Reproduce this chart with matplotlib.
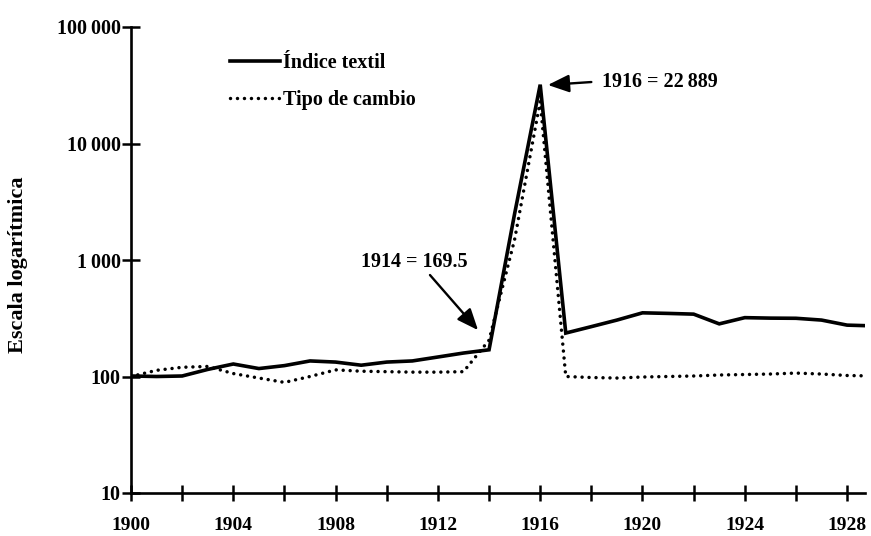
import numpy as np
import matplotlib
matplotlib.use("Agg")
import matplotlib.pyplot as plt
from matplotlib.ticker import NullLocator

plt.rcParams['font.family'] = ['Liberation Serif', 'DejaVu Serif']
plt.rcParams['font.weight'] = 'bold'

# datos
years = list(range(1900, 1930))
indice_textil = [101, 100, 101, 115, 128, 117, 124, 136, 133, 125,
                 133, 136, 147, 159, 169.5, 2500, 32000, 236, 268, 305,
                 352, 348, 343, 283, 320, 317, 316, 305, 276, 272]
tipo_cambio = [100, 113, 120, 122, 106, 97, 89, 100, 114, 111,
               110, 109, 109, 110, 205, 1500, 23000, 100, 98, 97,
               99, 100, 101, 103, 104, 105, 107, 105, 102, 101]

xticks = list(range(1900, 1929, 2))
xticklabels = [str(y) if (y - 1900) % 4 == 0 else '' for y in xticks]
yticks = [10, 100, 1000, 10000, 100000]
yticklabels = ['10', '100', '1\u2009000', '10\u2009000', '100\u2009000']

fs = 14

fig = plt.figure(figsize=(8.71, 5.36), dpi=100)
ax = fig.add_axes([131 / 871, 1 - 493 / 536, (865 - 131) / 871, (493 - 27) / 536])

ax.plot(years, indice_textil, color='black', lw=2.6, solid_joinstyle='miter',
        label='Índice textil')
ax.plot(years, tipo_cambio, color='black', lw=2.5, linestyle=(0, (0.01, 2.0)),
        dash_capstyle='round', label='Tipo de cambio')

ax.set_yscale('log')
ax.set_ylim(10, 100000)
ax.set_xlim(1900, 1928.7)

ax.set_yticks(yticks)
ax.set_yticklabels(yticklabels)
ax.yaxis.set_minor_locator(NullLocator())
ax.set_xticks(xticks)
ax.set_xticklabels(xticklabels)

for s in ['top', 'right']:
    ax.spines[s].set_visible(False)
for s in ['left', 'bottom']:
    ax.spines[s].set_linewidth(1.9)

ax.tick_params(axis='x', direction='inout', length=12, width=1.8, pad=11, labelsize=fs)
ax.tick_params(axis='y', direction='inout', length=13, width=1.8, pad=1, labelsize=fs + 0.5)

fig.text(18 / 871, 1 - 265 / 536, 'Escala logarítmica', rotation=90,
         ha='center', va='center', fontsize=16, fontweight='bold')

ax.legend(loc='upper left', bbox_to_anchor=(230 / 871, 1 - 53 / 536),
          bbox_transform=fig.transFigure, frameon=False, fontsize=fs + 0.5,
          handlelength=2.5, handletextpad=0.15, labelspacing=0.85,
          borderpad=0, borderaxespad=0)

arrow = dict(arrowstyle='-|>,head_length=0.65,head_width=0.27', color='black',
             lw=1.7, mutation_scale=20, shrinkA=0, shrinkB=0)

# 1916
ax.annotate('', xy=(1916.3, 31800), xytext=(1918.0, 33700), arrowprops=arrow)
ax.text(1918.42, 33700, '1916 = 22\u2009889', ha='left', va='center', fontsize=fs + 0.5)

# 1914
ax.annotate('', xy=(1913.57, 250), xytext=(1911.69, 743), arrowprops=arrow)
ax.text(1911.07, 961, '1914 = 169.5', ha='center', va='center', fontsize=fs + 0.5)

fig.savefig('out.png', dpi=100)
